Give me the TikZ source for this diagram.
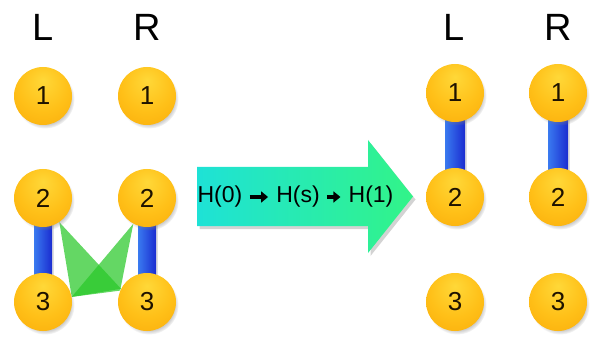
\documentclass[tikz,border=0pt]{standalone}
\usepackage{fontspec}
\setmainfont{Liberation Sans}
\usetikzlibrary{shadows,arrows.meta,fadings}
\definecolor{orbA}{HTML}{FFD838}
\definecolor{orbB}{HTML}{FFC018}
\definecolor{orbC}{HTML}{F8A606}
\definecolor{orbD}{HTML}{EA8E00}
\definecolor{numcol}{HTML}{1E1200}
\definecolor{barL}{HTML}{3A7AF0}
\definecolor{barR}{HTML}{1A2CD0}
\definecolor{arrL}{HTML}{1EE2D6}
\definecolor{arrR}{HTML}{32F488}
\definecolor{tri}{HTML}{28C828}
\pgfdeclareradialshading{orb}{\pgfpoint{0bp}{14bp}}{color(0bp)=(orbA); color(22bp)=(orbB); color(46bp)=(orbC); color(62bp)=(orbD)}
\tikzset{
  orbnode/.style={circle, minimum size=58pt, inner sep=0pt, shading=orb,
    circular drop shadow={shadow xshift=2pt, shadow yshift=-3pt, opacity=.4, shadow scale=1.02},
    font=\fontsize{26}{26}\selectfont, text=numcol},
  colhead/.style={font=\fontsize{38}{38}\selectfont, text=black},
  barfill/.style={left color=barL, right color=barR,
    drop shadow={shadow xshift=2pt, shadow yshift=-1pt, opacity=.25}},
  trifill/.style={fill=tri, fill opacity=.72},
  htext/.style={font=\fontsize{23}{23}\selectfont, inner sep=0pt, text=black},
  harrow/.style={line width=4pt, -{Triangle[length=7pt,width=11pt]}, shorten <=7pt, shorten >=8pt}
}
\begin{document}
\begin{tikzpicture}[x=1pt,y=-1pt]
\useasboundingbox (0,0) rectangle (594,339);
% headers
\node[colhead] (hL1) at (43,27) {L};
\node[colhead] (hR1) at (147,27) {R};
\node[colhead] (hL2) at (454,27) {L};
\node[colhead] (hR2) at (558,27) {R};
% coordinates for orbs
\coordinate (pL1) at (43,96);
\coordinate (pR1) at (147,96);
\coordinate (pL2) at (43,198);
\coordinate (pR2) at (147,198);
\coordinate (pL3) at (43,302);
\coordinate (pR3) at (147,302);
\coordinate (qL1) at (455,93);
\coordinate (qR1) at (558,93);
\coordinate (qL2) at (455,197);
\coordinate (qR2) at (558,197);
\coordinate (qL3) at (455,302);
\coordinate (qR3) at (558,302);
% bars (behind orbs)
\path[barfill] ([xshift=-9pt]pL2) rectangle ([xshift=9pt]pL3);
\path[barfill] ([xshift=-9pt]pR2) rectangle ([xshift=9pt]pR3);
\path[barfill] ([xshift=-10pt]qL1) rectangle ([xshift=10pt]qL2);
\path[barfill] ([xshift=-10pt]qR1) rectangle ([xshift=10pt]qR2);
% invisible orbs for anchors
\node[circle, minimum size=58pt, inner sep=0pt] (aL2) at (pL2) {};
\node[circle, minimum size=58pt, inner sep=0pt] (aR2) at (pR2) {};
\node[circle, minimum size=58pt, inner sep=0pt] (aL3) at (pL3) {};
\node[circle, minimum size=58pt, inner sep=0pt] (aR3) at (pR3) {};
% green triangles
\path[trifill] (aL2.-56) -- (aR3.153) -- (aL3.10) -- cycle;
\path[trifill] (aR2.-118) -- (aR3.157) -- (aL3.10) -- cycle;
% orbs
\node[orbnode] (L1) at (pL1) {1};
\node[orbnode] (R1) at (pR1) {1};
\node[orbnode] (L2) at (pL2) {2};
\node[orbnode] (R2) at (pR2) {2};
\node[orbnode] (L3) at (pL3) {3};
\node[orbnode] (R3) at (pR3) {3};
\node[orbnode] (L1b) at (qL1) {1};
\node[orbnode] (R1b) at (qR1) {1};
\node[orbnode] (L2b) at (qL2) {2};
\node[orbnode] (R2b) at (qR2) {2};
\node[orbnode] (L3b) at (qL3) {3};
\node[orbnode] (R3b) at (qR3) {3};
% big arrow
\path[left color=arrL, right color=arrR,
      drop shadow={shadow xshift=2.5pt, shadow yshift=-3pt, opacity=.35}]
  (197,167) -- (368,167) -- (368,140) -- (413,196.5) -- (368,253) -- (368,226) -- (197,226) -- cycle;
% text inside arrow
\node[htext] (H0) at (220,197) {H(0)};
\node[htext] (Hs) at (298,197) {H(s)};
\node[htext] (H1) at (371,197) {H(1)};
\draw[harrow] (H0.east) -- (Hs.west);
\draw[harrow] (Hs.east) -- (H1.west);
\end{tikzpicture}
\end{document}
